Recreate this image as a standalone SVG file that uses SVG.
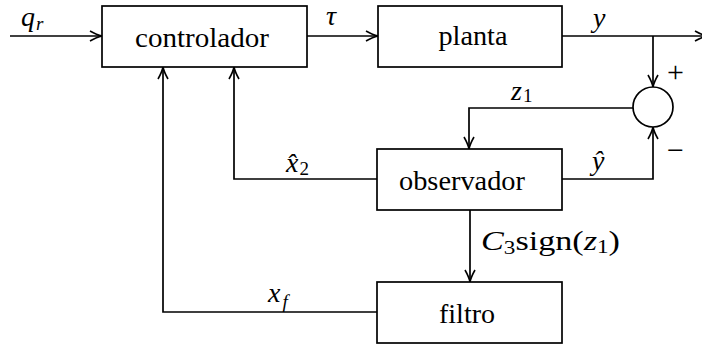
<svg xmlns="http://www.w3.org/2000/svg" width="702" height="350" viewBox="0 0 702 350">
<defs>
<style>
.box{fill:#fff;stroke:#000;stroke-width:1.7}
.ln{fill:none;stroke:#000;stroke-width:1.7}
.lbl{font-family:"Liberation Serif",serif;font-size:27px;fill:#000;text-anchor:middle}
.m{font-family:"Liberation Serif",serif;font-size:28px;fill:#000;font-style:italic}
.r{font-style:normal}
.s{font-size:19px;font-style:normal}
.si{font-size:19px;font-style:italic}
.sg{font-family:"Liberation Serif",serif;font-size:30px;fill:#000}
</style>
<marker id="ar" markerUnits="userSpaceOnUse" markerWidth="14" markerHeight="12" refX="12" refY="5" orient="auto" overflow="visible">
<path d="M0,0 Q7,4 12,5 Q7,6 0,10" fill="none" stroke="#000" stroke-width="1.6"/>
</marker>
</defs>

<g id="connectors">
<path class="ln" d="M10,36 H102" marker-end="url(#ar)"/>
<path class="ln" d="M307,36 H378" marker-end="url(#ar)"/>
<path class="ln" d="M562,36 H707" marker-end="url(#ar)"/>
<path class="ln" d="M653,36 V87" marker-end="url(#ar)"/>
<path class="ln" d="M562,179 H653 V127" marker-end="url(#ar)"/>
<path class="ln" d="M633,108 H469 V149" marker-end="url(#ar)"/>
<path class="ln" d="M470,210 V282" marker-end="url(#ar)"/>
<path class="ln" d="M377,179 H234 V67" marker-end="url(#ar)"/>
<path class="ln" d="M377,312 H163 V67" marker-end="url(#ar)"/>
</g>

<g id="controlador">
<rect class="box" x="102" y="6" width="205" height="61"/>
<text class="lbl" x="202" y="47" textLength="134" lengthAdjust="spacingAndGlyphs">controlador</text>
</g>
<g id="planta">
<rect class="box" x="378" y="6" width="184" height="61"/>
<text class="lbl" x="473" y="45" textLength="69" lengthAdjust="spacingAndGlyphs">planta</text>
</g>
<g id="observador">
<rect class="box" x="377" y="149" width="185" height="61"/>
<text class="lbl" x="462" y="190" textLength="126" lengthAdjust="spacingAndGlyphs">observador</text>
</g>
<g id="filtro">
<rect class="box" x="377" y="282" width="185" height="61"/>
<text class="lbl" x="467" y="323" textLength="56" lengthAdjust="spacingAndGlyphs">filtro</text>
</g>
<g id="soma">
<circle class="box" cx="653" cy="107" r="20"/>
<text class="sg" x="667" y="82">+</text>
<text class="sg" x="667" y="160">−</text>
</g>

<g id="labels">
<text class="m" x="21" y="26">q<tspan class="si" dx="1" dy="4">r</tspan></text>
<text class="m" x="326" y="25">τ</text>
<text class="m" x="593" y="27">y</text>
<text class="m" x="511" y="100">z<tspan class="s" dx="1" dy="2">1</tspan></text>
<text class="m" x="592" y="170">ŷ</text>
<text class="m" x="286" y="172">x̂<tspan class="s" dx="1" dy="3">2</tspan></text>
<text class="m" x="268" y="302">x<tspan class="si" dx="2" dy="6">f</tspan></text>
<text class="m" x="481" y="250" textLength="139" lengthAdjust="spacingAndGlyphs">C<tspan class="s" dy="4">3</tspan><tspan class="r" dy="-4">sign(</tspan>z<tspan class="s" dy="3">1</tspan><tspan class="r" dy="-3">)</tspan></text>
</g>
</svg>
